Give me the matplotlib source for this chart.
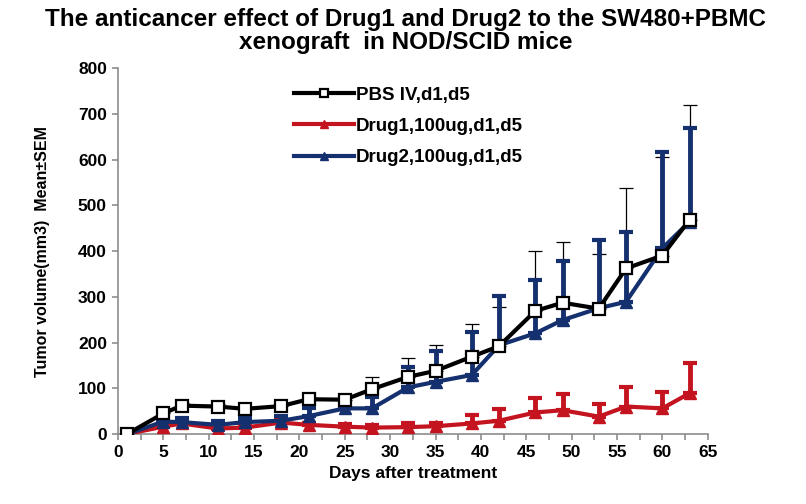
import numpy as np
import matplotlib
matplotlib.use("Agg")
import matplotlib.pyplot as plt
from matplotlib.ticker import MultipleLocator

# ─────────────────────────────────────────────────────────────────────────────
# Data
# ─────────────────────────────────────────────────────────────────────────────
days = [1, 5, 7, 11, 14, 18, 21, 25, 28, 32, 35, 39, 42, 46, 49, 53, 56, 60, 63]

pbs_mean = [0, 45, 62, 60, 55, 61, 76, 75, 98, 125, 138, 169, 192, 269, 287, 274, 362, 390, 468]
pbs_sem  = [0, 5, 5, 5, 5, 5, 5, 5, 26, 42, 57, 71, 86, 131, 133, 119, 175, 215, 251]

drug1_mean = [0, 16, 23, 12, 14, 25, 20, 16, 14, 15, 17, 23, 29, 47, 52, 38, 60, 56, 89]
drug1_sem  = [0, 5, 6, 5, 5, 8, 5, 5, 5, 8, 8, 19, 25, 31, 35, 28, 43, 36, 66]

drug2_mean = [0, 27, 26, 20, 26, 29, 39, 56, 56, 102, 114, 129, 194, 220, 249, 275, 289, 406, 464]
drug2_sem  = [0, 8, 8, 8, 8, 10, 18, 15, 25, 45, 68, 95, 108, 116, 129, 148, 153, 211, 206]

labels = ["PBS IV,d1,d5", "Drug1,100ug,d1,d5", "Drug2,100ug,d1,d5"]

# ─────────────────────────────────────────────────────────────────────────────
# Style
# ─────────────────────────────────────────────────────────────────────────────
plt.rcParams.update({
    "font.family": ["Liberation Sans", "DejaVu Sans"],
    "font.weight": "bold",
})
BLACK = "#000000"
RED = "#C4141F"
NAVY = "#15306E"
GREY = "#8C8C8C"

fig = plt.figure(figsize=(8.06, 5.04), dpi=100)
ax = fig.add_axes([0.1464, 0.1389, 0.7316, 0.7261])

# error bars (upper side only)
zeros = np.zeros(len(days))
ax.errorbar(days, pbs_mean, yerr=[zeros, pbs_sem], fmt="none",
            ecolor=BLACK, elinewidth=0.9, capsize=5, capthick=0.9, zorder=2)
ax.errorbar(days, drug1_mean, yerr=[zeros, drug1_sem], fmt="none",
            ecolor=RED, elinewidth=3.5, capsize=5, capthick=3, zorder=2)
ax.errorbar(days, drug2_mean, yerr=[zeros, drug2_sem], fmt="none",
            ecolor=NAVY, elinewidth=3.5, capsize=5, capthick=3, zorder=3)

ax.plot(days, drug1_mean, color=RED, lw=3, marker="^", ms=9,
        mfc=RED, mec=RED, label=labels[1], zorder=4)
ax.plot(days, drug2_mean, color=NAVY, lw=3, marker="^", ms=9,
        mfc=NAVY, mec=NAVY, label=labels[2], zorder=4)
ax.plot(days, pbs_mean, color=BLACK, lw=3, marker="s", ms=9,
        mfc="white", mec=BLACK, mew=1.6, label=labels[0], zorder=5)

ax.set_xlim(0, 65)
ax.set_ylim(0, 800)
ax.xaxis.set_major_locator(MultipleLocator(5))
ax.xaxis.set_minor_locator(MultipleLocator(2.5))
ax.yaxis.set_major_locator(MultipleLocator(100))

for side in ("top", "right"):
    ax.spines[side].set_visible(False)
for side in ("left", "bottom"):
    ax.spines[side].set_color(GREY)
    ax.spines[side].set_linewidth(1.2)
ax.tick_params(which="both", direction="out", color=GREY, width=1.2,
               labelsize=12.5, pad=4)
ax.tick_params(which="major", length=4)
ax.tick_params(which="minor", length=4)

ax.set_xlabel("Days after treatment", fontsize=12.5, fontweight="bold", labelpad=4)
ax.set_ylabel("Tumor volume(mm3)  Mean\u00b1SEM", fontsize=11.5,
              fontweight="bold", labelpad=20)

fig.suptitle("The anticancer effect of Drug1 and Drug2 to the SW480+PBMC\n"
             "xenograft  in NOD/SCID mice",
             x=0.503, y=0.984, fontsize=17.5, fontweight="bold", linespacing=1.0)

handles, lbls = ax.get_legend_handles_labels()
order = [2, 0, 1]
ax.legend([handles[i] for i in order], [lbls[i] for i in order],
          loc="upper left", bbox_to_anchor=(0.27, 0.995), frameon=False,
          fontsize=13.5, handlelength=3.2, handletextpad=0.1,
          labelspacing=0.75, markerscale=0.7)

fig.savefig("out.png", dpi=100)
